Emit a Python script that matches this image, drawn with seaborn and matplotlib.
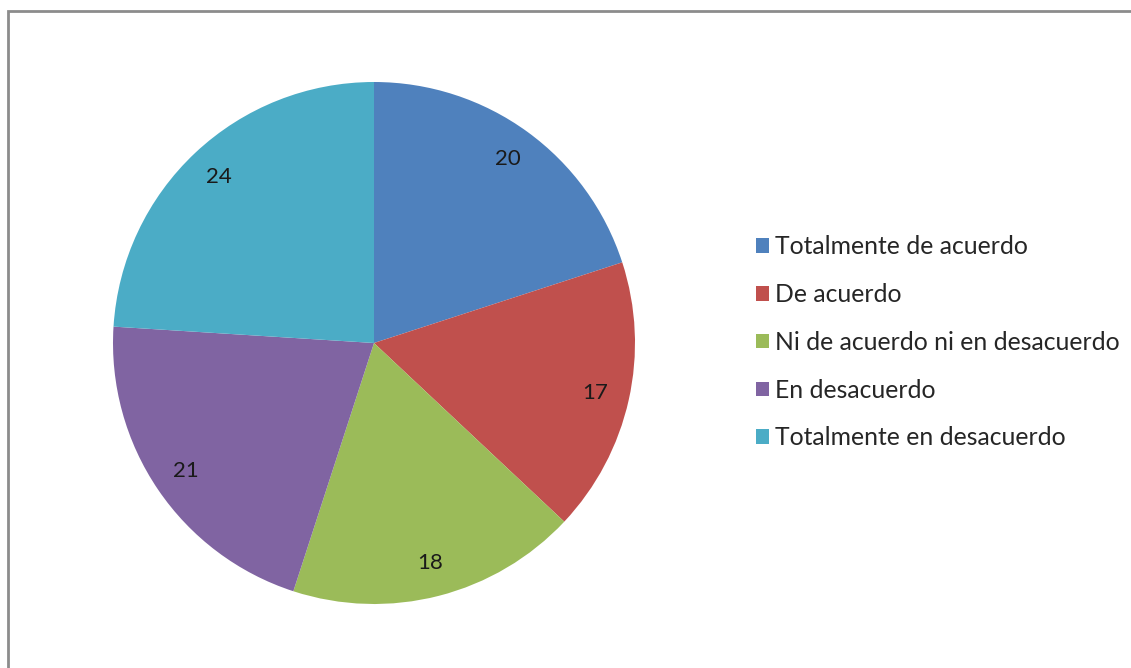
import matplotlib
matplotlib.use("Agg")
import matplotlib.pyplot as plt
from matplotlib.patches import Rectangle, Patch
import seaborn as sns

categories = ["Totalmente de acuerdo", "De acuerdo",
              "Ni de acuerdo ni en desacuerdo", "En desacuerdo",
              "Totalmente en desacuerdo"]
values = [20, 17, 18, 21, 24]
colors = ["#4F81BD", "#C0504D", "#9BBB59", "#8064A2", "#4BACC6"]

sns.set_theme(style="white")
plt.rcParams["font.family"] = ["Lato", "DejaVu Sans"]

W, H = 1131, 668
fig = plt.figure(figsize=(W / 100, H / 100), dpi=100)
fig.patch.set_facecolor("white")

# pie placement (pixels): center (374, 343), radius 261
cx, cy, r = 374, 343, 261
ax = fig.add_axes([(cx - r) / W, (H - cy - r) / H, 2 * r / W, 2 * r / H])
wedges, texts = ax.pie(values, colors=colors, startangle=90, counterclock=False,
                       labels=[str(v) for v in values], labeldistance=0.87,
                       wedgeprops={"linewidth": 0},
                       textprops={"fontsize": 16, "color": "#1a1a1a"})
for t in texts:
    t.set_ha("center")
    t.set_va("center")
ax.set_aspect("equal")
ax.set_xlim(-1, 1)
ax.set_ylim(-1, 1)
ax.axis("off")

handles = [Patch(facecolor=c, edgecolor="none") for c in colors]
fig.legend(handles, categories, loc="upper left",
           bbox_to_anchor=(744 / W, 1 - 223 / H), frameon=False,
           fontsize=17.8, handlelength=0.52, handleheight=0.52,
           handletextpad=0.22, labelspacing=1.0, borderpad=0)

# outer chart frame
fig.add_artist(Rectangle((8 / W, -0.05), 1.1, (H - 11) / H + 0.05,
                         transform=fig.transFigure, fill=False,
                         edgecolor="#8c8c8c", linewidth=2))

fig.savefig("out.png", dpi=100, facecolor="white")
